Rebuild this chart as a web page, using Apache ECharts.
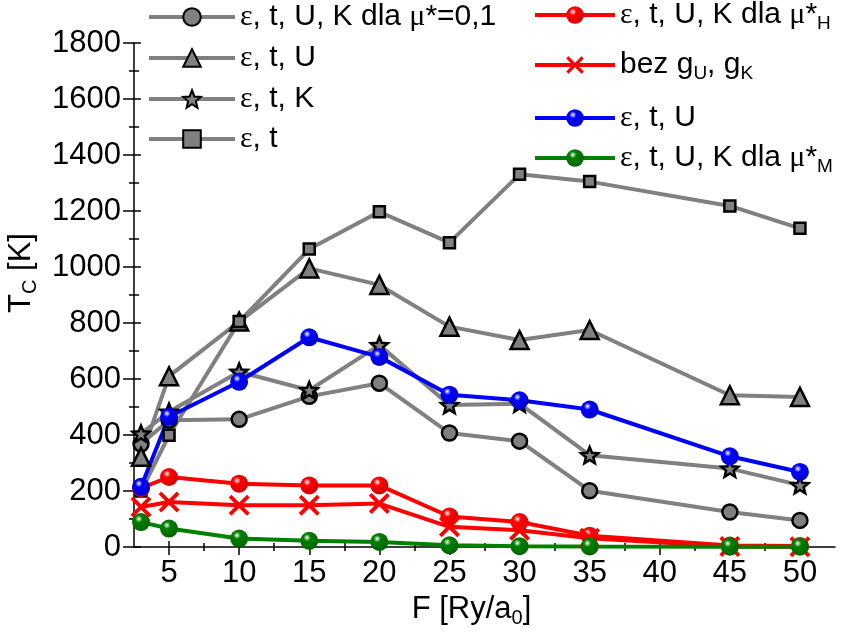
<!DOCTYPE html>
<html><head><meta charset="utf-8">
<script src="https://cdn.jsdelivr.net/npm/echarts@6/dist/echarts.min.js"></script>
<style>html,body{margin:0;padding:0;background:#fff}#c{width:848px;height:636px}</style>
</head><body><div id="c"></div>
<script>
// ---- data ----
const xValues = [3, 5, 10, 15, 20, 25, 30, 35, 45, 50];
const sCircle01 = [368, 453, 456, 538, 585, 407, 378, 201, 125, 95];
const sTriU     = [322, 610, 805, 995, 936, 787, 739, 775, 542, 536];
const sStarK    = [405, 483, 626, 560, 721, 507, 512, 328, 280, 221];
const sSquare   = [200, 399, 805, 1064, 1197, 1087, 1331, 1305, 1218, 1138];
const sRedH     = [210, 250, 226, 220, 220, 109, 89, 40, 5, 4];
const sRedX     = [143, 161, 149, 149, 155, 72, 60, 31, 2, 1];
const sBlueU    = [215, 465, 590, 749, 679, 544, 524, 491, 324, 268];
const sGreenM   = [89, 66, 30, 22, 18, 6, 3, 2, 1, 1];
const xMajorTicks = [5, 10, 15, 20, 25, 30, 35, 40, 45, 50];
const xMinorTicks = [7.5, 12.5, 17.5, 22.5, 27.5, 32.5, 37.5, 42.5, 47.5];
const yTickLabels = [0, 200, 400, 600, 800, 1000, 1200, 1400, 1600, 1800];
const legendLabels = {
  c01: '{g|ε}, t, U, K dla {g|μ}*=0,1',
  triU: '{g|ε}, t, U',
  starK: '{g|ε}, t, K',
  sq: '{g|ε}, t',
  redH: '{g|ε}, t, U, K dla {g|μ}*{sub|H}',
  redX: 'bez g{sub|U}, g{sub|K}',
  blueU: '{g|ε}, t, U',
  greenM: '{g|ε}, t, U, K dla {g|μ}*{sub|M}'
};
const xName = 'F [Ry/a{sub|0}]';
const yName = 'T{sub|C} [K]';

// ---- styling ----
const FONT = 'Liberation Sans';
const GRAY = '#808080';
const starPath = 'path://M50,0 L62.93,32.2 L97.55,34.55 L70.92,56.8 L79.39,90.45 L50,72 L20.61,90.45 L29.08,56.8 L2.45,34.55 L37.07,32.2 Z';
const crossPath = 'path://M0,2.6 L2.6,0 L10,7.4 L17.4,0 L20,2.6 L12.6,10 L20,17.4 L17.4,20 L10,12.6 L2.6,20 L0,17.4 L7.4,10 Z';
function sphere(base, dark) {
  return {type: 'radial', x: 0.38, y: 0.32, r: 0.7,
    colorStops: [{offset: 0, color: '#ffffff'}, {offset: 0.28, color: base}, {offset: 1, color: dark}]};
}
const pairs = arr => xValues.map((x, i) => [x, arr[i]]);

function graySeries(name, arr, symbol, size) {
  return {name, type: 'line', data: pairs(arr), symbol, symbolSize: size, symbolKeepAspect: true,
    lineStyle: {color: GRAY, width: 4}, itemStyle: {color: GRAY, borderColor: '#000', borderWidth: 2.5},
    xAxisIndex: 0, yAxisIndex: 0};
}
function colorSeries(name, arr, color, dark, symbol) {
  return {name, type: 'line', data: pairs(arr), symbol: symbol || 'circle', symbolSize: symbol ? 21 : 18,
    symbolKeepAspect: true,
    lineStyle: {color, width: 4},
    itemStyle: symbol ? {color, borderWidth: 0} : {color: sphere(color, dark), borderWidth: 0},
    xAxisIndex: 0, yAxisIndex: 0};
}

const series = [
  graySeries('c01', sCircle01, 'circle', 15),
  graySeries('triU', sTriU, 'triangle', 18),
  graySeries('starK', sStarK, starPath, 17),
  graySeries('sq', sSquare, 'rect', 11),
  colorSeries('redH', sRedH, '#ff0000', '#d00000'),
  colorSeries('redX', sRedX, '#ff0000', '#d00000', crossPath),
  colorSeries('blueU', sBlueU, '#0000ff', '#0000c8'),
  colorSeries('greenM', sGreenM, '#008000', '#006400')
];

const rich = {
  g: {fontFamily: 'Liberation Serif', fontSize: 30, color: '#000'},
  sub: {fontFamily: FONT, fontSize: 19, color: '#000', verticalAlign: 'bottom', padding: [17, 0, 0, 0]}
};
const legendPos = [
  ['c01', 147, 2, 86], ['triU', 147, 43, 86], ['starK', 147, 84, 86], ['sq', 147, 124, 86],
  ['redH', 533, 0, 80], ['redX', 533, 50, 80], ['blueU', 533, 103, 80], ['greenM', 533, 143, 80]
];
const legends = legendPos.map(([n, l, t, w]) => ({
  data: [n], left: l, top: t, orient: 'vertical', padding: 0, itemGap: 0,
  itemWidth: w, itemHeight: 22, selectedMode: false,
  lineStyle: {width: 4},
  formatter: name => legendLabels[name],
  textStyle: {fontFamily: FONT, fontSize: 30, color: '#000', rich}
}));

const tickLine = {color: '#000', width: 1.5};
function xAx(opts) {
  return Object.assign({type: 'value', min: 2.5, max: 52.5, position: 'bottom', gridIndex: 0,
    splitLine: {show: false}, axisLine: {show: false}, axisLabel: {show: false}}, opts);
}
function yAx(opts) {
  return Object.assign({type: 'value', min: 0, max: 1800, interval: 200, position: 'left', gridIndex: 0,
    splitLine: {show: false}, axisLine: {show: false}, axisLabel: {show: false}}, opts);
}

const option = {
  animation: false,
  backgroundColor: '#fff',
  grid: {left: 134, right: 13, top: 43, bottom: 89, containLabel: false, outerBoundsMode: 'none'},
  legend: legends,
  xAxis: [
    xAx({
      axisLine: {show: true, onZero: false, lineStyle: tickLine},
      axisTick: {show: true, customValues: xMajorTicks, length: 8, lineStyle: tickLine},
      axisLabel: {show: true, customValues: xMajorTicks, fontFamily: FONT, fontSize: 31, color: '#000', margin: 11},
      name: xName, nameLocation: 'middle', nameGap: 37,
      nameTextStyle: {fontFamily: FONT, fontSize: 31, color: '#000', padding: [0, 26, 0, 0],
        rich: {sub: {fontFamily: FONT, fontSize: 20, color: '#000', verticalAlign: 'bottom', padding: [18, 0, 0, 0]}}}
    }),
    xAx({axisTick: {show: true, inside: true, customValues: xMajorTicks, length: 6, lineStyle: tickLine}}),
    xAx({axisTick: {show: true, customValues: xMinorTicks, length: 4, lineStyle: tickLine}}),
    xAx({axisTick: {show: true, inside: true, customValues: xMinorTicks, length: 4, lineStyle: tickLine}})
  ],
  yAxis: [
    yAx({
      axisLine: {show: true, onZero: false, lineStyle: tickLine},
      axisTick: {show: true, length: 11, lineStyle: tickLine},
      minorTick: {show: true, splitNumber: 2, length: 5, lineStyle: tickLine},
      axisLabel: {show: true, fontFamily: FONT, fontSize: 31, color: '#000', margin: 13,
        formatter: v => (yTickLabels.indexOf(v) >= 0 ? String(v) : '')},
      name: yName, nameLocation: 'middle', nameRotate: 90, nameGap: 94,
      nameTextStyle: {fontFamily: FONT, fontSize: 31, color: '#000', padding: [0, 0, 0, 44],
        rich: {sub: {fontFamily: FONT, fontSize: 20, color: '#000', verticalAlign: 'bottom', padding: [18, 0, 0, 0]}}}
    }),
    yAx({axisTick: {show: true, inside: true, length: 7, lineStyle: tickLine},
      minorTick: {show: true, splitNumber: 2, length: 5, lineStyle: tickLine}})
  ],
  series
};
const chart = echarts.init(document.getElementById('c'), null, {renderer: 'canvas'});
chart.setOption(option);
</script>
</body></html>
